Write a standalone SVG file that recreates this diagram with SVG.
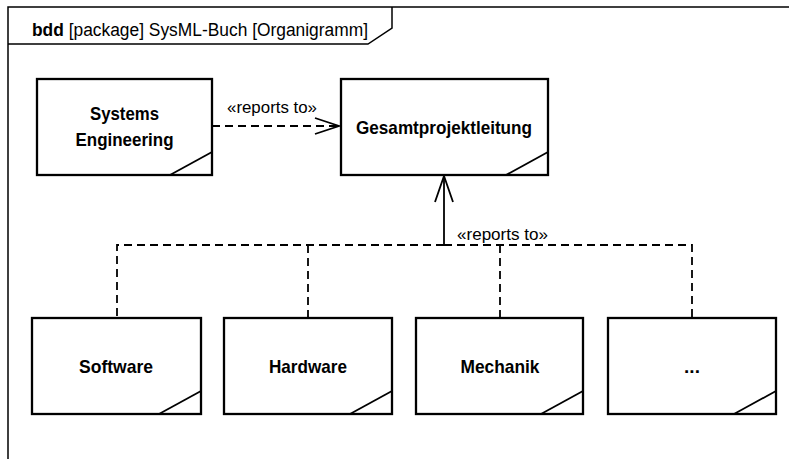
<svg xmlns="http://www.w3.org/2000/svg" width="789" height="459" viewBox="0 0 789 459">
<defs>
<style>
.frame{fill:none;stroke:#000;stroke-width:1.5}
.box{fill:#fff;stroke:#000;stroke-width:2.3}
.corner{fill:none;stroke:#000;stroke-width:1.8}
.dash{fill:none;stroke:#000;stroke-width:1.8;stroke-dasharray:8,5}
.solid{fill:none;stroke:#000;stroke-width:1.8}
.head{fill:none;stroke:#000;stroke-width:1.8}
.name{font-family:"Liberation Sans",Arial,sans-serif;font-weight:bold;font-size:19px;text-anchor:middle;fill:#000}
.lbl{font-family:"Liberation Sans",Arial,sans-serif;font-size:17px;fill:#000}
.title{font-family:"Liberation Sans",Arial,sans-serif;font-size:18px;fill:#000}
</style>
</defs>
<rect width="789" height="459" fill="#fff"/>
<g id="frame">
<path class="frame" d="M8,470 V7 H789"/>
<path class="frame" d="M8,44 H368 L392,28 V7"/>
<text class="title" x="32" y="36" textLength="336" lengthAdjust="spacingAndGlyphs"><tspan font-weight="bold">bdd</tspan> [package] SysML-Buch [Organigramm]</text>
</g>
<g id="connectors">
<path class="dash" d="M212,126 H339"/>
<path class="head" d="M315,118 L339,126 L315,134"/>
<text class="lbl" x="227" y="113" textLength="90" lengthAdjust="spacingAndGlyphs">«reports to»</text>
<path class="solid" d="M444,176 V245"/>
<path class="head" d="M435,202 L444,176 L453,202"/>
<path class="dash" d="M444,245 H117 V318"/>
<path class="dash" d="M444,245 H692 V318"/>
<path class="dash" d="M308,245 V318"/>
<path class="dash" d="M500,245 V318"/>
<text class="lbl" x="457" y="240" textLength="91" lengthAdjust="spacingAndGlyphs">«reports to»</text>
</g>
<g id="systems-engineering">
<rect class="box" x="37" y="79" width="175" height="96"/>
<path class="corner" d="M212,152 L170,175"/>
<text class="name" x="124.5" y="120" textLength="69" lengthAdjust="spacingAndGlyphs">Systems</text>
<text class="name" x="124.5" y="146" textLength="98" lengthAdjust="spacingAndGlyphs">Engineering</text>
</g>
<g id="gesamtprojektleitung">
<rect class="box" x="341" y="79" width="207" height="96"/>
<path class="corner" d="M548,152 L506,175"/>
<text class="name" x="444" y="134" textLength="176" lengthAdjust="spacingAndGlyphs">Gesamtprojektleitung</text>
</g>
<g id="software">
<rect class="box" x="32" y="318" width="169" height="96"/>
<path class="corner" d="M201,391 L159,414"/>
<text class="name" x="116" y="373" textLength="74" lengthAdjust="spacingAndGlyphs">Software</text>
</g>
<g id="hardware">
<rect class="box" x="224" y="318" width="168" height="96"/>
<path class="corner" d="M392,391 L350,414"/>
<text class="name" x="308" y="373" textLength="78" lengthAdjust="spacingAndGlyphs">Hardware</text>
</g>
<g id="mechanik">
<rect class="box" x="416" y="318" width="167" height="96"/>
<path class="corner" d="M583,391 L541,414"/>
<text class="name" x="500" y="373" textLength="79" lengthAdjust="spacingAndGlyphs">Mechanik</text>
</g>
<g id="more">
<rect class="box" x="608" y="318" width="168" height="96"/>
<path class="corner" d="M776,391 L734,414"/>
<text class="name" x="692" y="373">...</text>
</g>
</svg>
